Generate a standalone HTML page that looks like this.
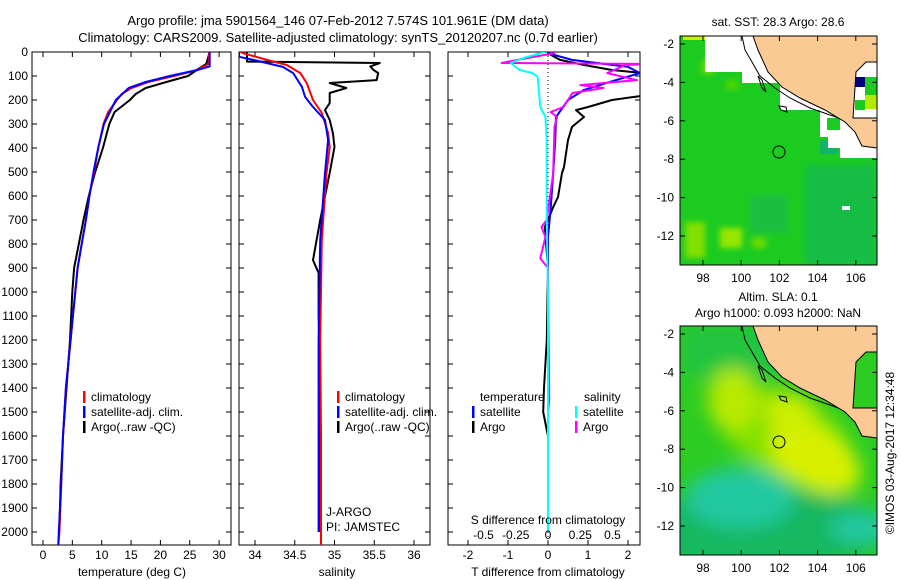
<!DOCTYPE html>
<html><head><meta charset="utf-8"><style>
html,body{margin:0;padding:0;background:#fff;}
svg{display:block;font-family:"Liberation Sans",sans-serif;}
</style></head><body>
<svg id="fig" width="900" height="580" viewBox="0 0 900 580" xmlns="http://www.w3.org/2000/svg">
<defs>
<clipPath id="c1"><rect x="32" y="52" width="199" height="493"/></clipPath>
<clipPath id="c2"><rect x="239" y="52" width="191" height="493"/></clipPath>
<clipPath id="c3"><rect x="448" y="52" width="192" height="493"/></clipPath>
<clipPath id="m1"><rect x="680" y="36" width="197" height="229"/></clipPath>
<clipPath id="m2"><rect x="680" y="326" width="197" height="229"/></clipPath>
<filter id="bl"><feGaussianBlur stdDeviation="9"/></filter>
<filter id="bl2"><feGaussianBlur stdDeviation="3"/></filter>
</defs>
<text x="338" y="25" font-size="13" text-anchor="middle">Argo profile: jma 5901564_146 07-Feb-2012 7.574S 101.961E (DM data)</text>
<text x="338" y="42" font-size="13" text-anchor="middle">Climatology: CARS2009. Satellite-adjusted climatology: synTS_20120207.nc (0.7d earlier)</text>
<g id="g1"></g>
<g id="g2"></g>
<g id="g3"></g>

<!-- Map 1 : SST -->
<g>
<text x="778" y="26" font-size="12" text-anchor="middle">sat. SST: 28.3 Argo: 28.6</text>
<g clip-path="url(#m1)">
<rect x="680" y="36" width="197" height="229" fill="#1ccb20"/>
<g filter="url(#bl2)">
<rect x="805" y="165" width="72" height="100" fill="#18bd44"/>
<rect x="750" y="195" width="38" height="38" fill="#1abe40"/>
<rect x="685" y="222" width="20" height="36" fill="#80e000"/>
<rect x="720" y="228" width="22" height="20" fill="#98e600"/>
<rect x="752" y="238" width="14" height="10" fill="#70dc00"/>
<rect x="702" y="60" width="12" height="14" fill="#70dc00"/>
<rect x="726" y="80" width="12" height="10" fill="#50d400"/>
</g>
<rect x="820" y="140" width="18" height="14" fill="#14b466"/>
<polygon fill="#fff" points="705,36 877,36 877,158 840,158 840,148 828,148 828,137 820,137 820,110 780,110 780,83 742,83 742,72 705,72"/>
<rect x="683" y="36" width="22" height="4" fill="#c8f000"/>
<rect x="827" y="118" width="13" height="12" fill="#1ccb20"/>
<rect x="855" y="77" width="10" height="10" fill="#000080"/>
<rect x="865" y="77" width="12" height="20" fill="#1ccb20"/>
<rect x="865" y="95" width="12" height="14" fill="#b0ea00"/>
<rect x="855" y="100" width="10" height="10" fill="#1ccb20"/>
<polyline fill="none" stroke="#000" stroke-width="1" points="742,36 745,50 752,62 760,76 775,88 790,98 810,108 830,115 850,122"/>
<polygon fill="#fbc994" stroke="#000" stroke-width="1" points="753,36 877,36 877,62 866,62 856,72 853,118 877,118 877,148 862,146 855,132 845,122 825,110 800,98 782,87 768,72 758,50"/>
<polygon fill="none" stroke="#000" points="758,76 762,80 766,92 762,88"/>
<polygon fill="none" stroke="#000" points="779,106 786,107 787,112 781,110"/>
<rect x="842" y="206" width="8" height="4" fill="#fff"/>
<circle cx="779" cy="152" r="6" fill="none" stroke="#000"/>
</g>
<rect x="680" y="36" width="197" height="229" fill="none" stroke="#000"/>
</g>

<!-- Map 2 : SLA -->
<g>
<text x="778" y="301" font-size="12" text-anchor="middle">Altim. SLA: 0.1</text>
<text x="778" y="317" font-size="12" text-anchor="middle">Argo h1000: 0.093 h2000: NaN</text>
<g clip-path="url(#m2)">
<rect x="680" y="326" width="197" height="229" fill="#2ccc22"/>
<g filter="url(#bl)">
<rect x="680" y="326" width="110" height="50" fill="#22c440"/>
<ellipse cx="760" cy="530" rx="130" ry="40" fill="#14b860"/>
<ellipse cx="740" cy="498" rx="55" ry="30" fill="#22c8a0"/>
<ellipse cx="862" cy="528" rx="32" ry="16" fill="#22c8a0"/>
<ellipse cx="785" cy="435" rx="70" ry="42" fill="#80e000" transform="rotate(28 785 435)"/>
<ellipse cx="733" cy="400" rx="25" ry="32" fill="#b8ea00"/>
<ellipse cx="815" cy="458" rx="50" ry="30" fill="#d8f000" transform="rotate(30 815 458)"/>
<ellipse cx="790" cy="412" rx="25" ry="18" fill="#ccee00"/>
</g>
<polyline fill="none" stroke="#000" stroke-width="1" points="742,326 745,340 752,352 760,366 775,378 790,388 810,398 830,405 850,412"/>
<polygon fill="#fbc994" stroke="#000" stroke-width="1" points="753,326 877,326 877,352 866,352 856,362 853,408 877,408 877,438 862,436 855,422 845,412 825,400 800,388 782,377 768,362 758,340"/>
<polygon fill="none" stroke="#000" points="758,366 762,370 766,382 762,378"/>
<polygon fill="none" stroke="#000" points="779,396 786,397 787,402 781,400"/>
<circle cx="779" cy="442" r="6" fill="none" stroke="#000"/>
</g>
<rect x="680" y="326" width="197" height="229" fill="none" stroke="#000"/>
</g>
<g id="maxes"></g>
<text x="0" y="0" font-size="12" text-anchor="middle" transform="translate(894,453) rotate(-90)">©IMOS 03-Aug-2017 12:34:48</text>
</svg>
<script>
// ---------- data ----------
const tDepthClim = [0,50,75,100,125,150,175,200,250,300,400,500,600,700,800,900,1000,1100,1200,1400,1600,1800,2000,2054];
const tClim      = [28.3,28.2,26.3,22.3,17.9,15.1,13.4,12.6,11.1,10.3,9.4,8.7,7.9,7.3,6.6,5.9,5.5,5.1,4.7,3.9,3.4,3.1,2.8,2.6];
const tDepthSat  = [0,60,75,100,125,150,200,250,300,400,500,600,700,800,900,1000,1100,1200,1400,1600,1800,2000,2054];
const tSat       = [28.4,28.4,26.3,21.6,17.5,14.6,12.4,11.4,10.4,9.4,8.6,7.9,7.3,6.6,5.9,5.5,5.1,4.7,3.9,3.4,3.1,2.7,2.6];
const tDepthArgo = [0,50,75,100,125,150,175,200,250,300,400,500,600,700,800,900,1000,1200,1400,1600,1800,1990];
const tArgo      = [28.4,27.8,26.2,24.7,21.0,17.5,15.8,14.8,12.2,11.3,10.2,8.9,7.8,6.9,6.1,5.3,5.0,4.6,4.0,3.4,3.0,2.8];

const sDepthClim = [0,5,33,54,88,129,200,254,338,396,504,783,1200,1600,2054];
const sClim      = [33.82,33.85,34.15,34.4,34.57,34.65,34.73,34.84,34.92,34.94,34.9,34.84,34.82,34.83,34.83];
const sDepthSat  = [0,20,33,62,88,145,187,229,283,367,504,783,1200,1600,2000];
const sSat       = [33.8,33.8,33.98,34.35,34.48,34.59,34.63,34.73,34.88,34.92,34.88,34.82,34.8,34.8,34.8];
const sDepthArgo = [0,40,46,60,75,88,117,129,150,171,213,242,283,338,396,504,700,867,921,1100,1337,1600,2000];
const sArgo      = [33.9,33.9,35.57,35.45,35.49,35.55,35.53,34.94,35.15,34.94,34.94,34.88,34.94,34.98,35.0,34.94,34.82,34.73,34.8,34.8,34.82,34.81,34.81];

const dDepthTSat  = [0,5,33,62,88,117,158,200,271,367,504,646,771,1000,1500,2000];
const dTSat       = [0,0,0.6,2.0,2.3,1.7,0.9,0.5,0.2,0.18,0.13,0.07,0,0,0,0];
const dDepthTArgo = [0,5,33,54,75,88,110,130,171,179,200,229,242,271,312,367,479,504,604,646,700,729,900,1200,1400,1500,1600,1990];
const dTArgo      = [0,0,0.3,0.9,1.6,2.4,3.2,3.4,3.0,2.5,1.6,1.0,0.7,0.9,0.6,0.5,0.4,0.35,0.25,0.13,0,-0.08,0,-0.03,-0.1,-0.12,0,0];
const dDepthSSat  = [0,5,25,46,75,88,104,229,271,367,700,1000,1500,2000];
const dSSat       = [-0.02,-0.06,-0.19,-0.29,-0.22,-0.12,-0.08,-0.06,-0.02,-0.01,-0.01,0,0,0];
const dDepthSArgo = [0,5,25,46,50,54,88,117,138,150,171,229,250,271,312,504,700,729,771,860,900,1000,1450,1500,1990];
const dSArgo      = [0.05,0.05,-0.16,-0.36,0.8,0.6,0.46,0.69,0.25,0.43,0.19,0.12,0.02,0.07,0.05,0.04,-0.01,-0.05,-0.02,-0.06,0,0,0.01,0,0];

const depthTicks = [0,100,200,300,400,500,600,700,800,900,1000,1100,1200,1300,1400,1500,1600,1700,1800,1900,2000];
const tTicks = [0,5,10,15,20,25,30];
const sTicks = [34,34.5,35,35.5,36];
const dtTicks = [-2,-1,0,1,2];
const dsTicks = [-0.5,-0.25,0,0.25,0.5];
const lonTicks = [98,100,102,104,106];
const latTicks = [-2,-4,-6,-8,-10,-12];

// ---------- scales ----------
const NS='http://www.w3.org/2000/svg';
const ty = d => 52 + d*0.24;
const tx = t => 43 + t*5.87;
const sx = s => 255 + (s-34)*79.5;
const dtx = v => 548 + v*40;
const dsx = v => 548 + v*129;
const lonx = l => 703 + (l-98)*19.1;
const laty = l => 44 + (-2-l)*19.2;

function mk(tag, attrs, parent){const e=document.createElementNS(NS,tag);for(const k in attrs)e.setAttribute(k,attrs[k]);parent.appendChild(e);return e;}
function txt(parent,x,y,s,anchor,size){const e=mk('text',{x:x,y:y,'font-size':size||12,'text-anchor':anchor||'start'},parent);e.textContent=s;return e;}
function line(parent, xs, ds, xf, color, w, clip, name){
  const pts = xs.map((v,i)=>xf(v).toFixed(1)+','+ty(ds[i]).toFixed(1)).join(' ');
  const p = mk('polyline',{points:pts,fill:'none',stroke:color,'stroke-width':w,'clip-path':'url(#'+clip+')','stroke-linejoin':'round'},parent);
  
  
  return p;
}
function panel(g,x0,x1,ticks,xf,labelTicks,showDepth){
  const r=mk('rect',{x:x0,y:52,width:x1-x0,height:493,fill:'none',stroke:'#000'},g);
  
  
  depthTicks.forEach(d=>{
    mk('line',{x1:x0,x2:x0+5,y1:ty(d),y2:ty(d),stroke:'#000'},g);
    mk('line',{x1:x1-5,x2:x1,y1:ty(d),y2:ty(d),stroke:'#000'},g);
    if(showDepth){const t=txt(g,28,ty(d)+4,String(d),'end');
      
      }
  });
  ticks.forEach(v=>{
    mk('line',{x1:xf(v),x2:xf(v),y1:52,y2:57,stroke:'#000'},g);
    mk('line',{x1:xf(v),x2:xf(v),y1:540,y2:545,stroke:'#000'},g);
    if(labelTicks){const t=txt(g,xf(v),559,String(v),'middle');
      
      }
  });
}
function legend(g,x,y,color,label){
  mk('rect',{x:x,y:y-10,width:2.5,height:12,fill:color},g);
  const t=txt(g,x+8,y,label,'start');
  
  
}

// panel 1
const g1=document.getElementById('g1');
panel(g1,32,231,tTicks,tx,true,true);
line(g1,tArgo,tDepthArgo,tx,'#000',2,'c1','temp-argo-line');
line(g1,tClim,tDepthClim,tx,'#f00',2,'c1','temp-climatology-line');
line(g1,tSat,tDepthSat,tx,'#00f',2,'c1','temp-satellite-line');
txt(g1,132,576,'temperature (deg C)','middle');
legend(g1,83,401,'#f00','climatology');
legend(g1,83,416,'#00f','satellite-adj. clim.');
legend(g1,83,431,'#000','Argo(..raw -QC)');

// panel 2
const g2=document.getElementById('g2');
panel(g2,239,430,sTicks,sx,true,false);
line(g2,sArgo,sDepthArgo,sx,'#000',2,'c2','salinity-argo-line');
line(g2,sClim,sDepthClim,sx,'#f00',2,'c2','salinity-climatology-line');
line(g2,sSat,sDepthSat,sx,'#00f',2,'c2','salinity-satellite-line');
txt(g2,337,576,'salinity','middle');
legend(g2,337,401,'#f00','climatology');
legend(g2,337,416,'#00f','satellite-adj. clim.');
legend(g2,337,431,'#000','Argo(..raw -QC)');
txt(g2,326,516,'J-ARGO','start');
txt(g2,326,531,'PI: JAMSTEC','start');

// panel 3
const g3=document.getElementById('g3');
panel(g3,448,640,dtTicks,dtx,true,false);
mk('line',{x1:548,x2:548,y1:52,y2:545,stroke:'#000','stroke-dasharray':'1,3'},g3);
line(g3,dTArgo,dDepthTArgo,dtx,'#000',2,'c3','tdiff-argo-line');
line(g3,dTSat,dDepthTSat,dtx,'#00f',2,'c3','tdiff-satellite-line');
line(g3,dSArgo,dDepthSArgo,dsx,'#f0f',2,'c3','sdiff-argo-line');
line(g3,dSSat,dDepthSSat,dsx,'#0ff',2,'c3','sdiff-satellite-line');
txt(g3,548,576,'T difference from climatology','middle');
txt(g3,548,524,'S difference from climatology','middle');
dsTicks.forEach(v=>{const t=txt(g3,dsx(v),539,String(v),'middle');
  
  });
txt(g3,480,401,'temperature','start');
txt(g3,584,401,'salinity','start');
legend(g3,472,416,'#00f','satellite');
legend(g3,472,431,'#000','Argo');
legend(g3,575,416,'#0ff','satellite');
legend(g3,575,431,'#f0f','Argo');

// map axes
const ma=document.getElementById('maxes');
[0,290].forEach(off=>{
  latTicks.forEach(l=>{
    const y=laty(l)+off;
    mk('line',{x1:680,x2:685,y1:y,y2:y,stroke:'#000'},ma);
    mk('line',{x1:872,x2:877,y1:y,y2:y,stroke:'#000'},ma);
    const t=txt(ma,674,y+4,String(l),'end');
    
    
  });
  lonTicks.forEach(l=>{
    const x=lonx(l);
    mk('line',{x1:x,x2:x,y1:36+off,y2:41+off,stroke:'#000'},ma);
    mk('line',{x1:x,x2:x,y1:260+off,y2:265+off,stroke:'#000'},ma);
    const t=txt(ma,x,282+off,String(l),'middle');
    
    
  });
});
</script>
</body></html>
